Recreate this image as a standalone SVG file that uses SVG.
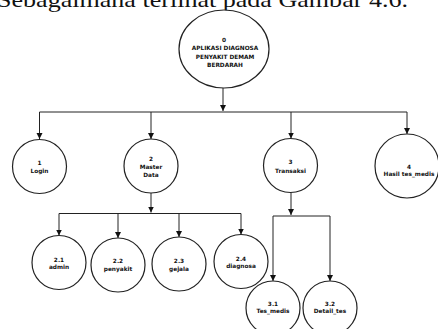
<svg xmlns="http://www.w3.org/2000/svg" width="438" height="329" viewBox="0 0 438 329">
<style>
.n{fill:#fff;stroke:#222;stroke-width:1.2}
.c{fill:none;stroke:#222;stroke-width:1}
.t{font-family:"DejaVu Sans",Verdana,sans-serif;font-weight:bold;font-size:5.8px;fill:#111;text-anchor:middle}
.h{font-family:"Liberation Serif","Times New Roman",serif;font-size:22px;fill:#111}
</style>
<defs>
<marker id="a" markerUnits="userSpaceOnUse" markerWidth="7" markerHeight="7" refX="6" refY="3" orient="auto">
<path d="M0,0 L6,3 L0,6 z" fill="#111"/>
</marker>
</defs>
<text class="h" x="-3" y="7" textLength="411" lengthAdjust="spacingAndGlyphs">Sebagaimana terlihat pada Gambar 4.6.</text>
<g id="connectors">
<path class="c" d="M223,88 V111" marker-end="url(#a)"/>
<path class="c" d="M39.5,112 H407"/>
<path class="c" d="M39.5,112 V139" marker-end="url(#a)"/>
<path class="c" d="M151,112 V139" marker-end="url(#a)"/>
<path class="c" d="M291,112 V138.5" marker-end="url(#a)"/>
<path class="c" d="M407,112 V134" marker-end="url(#a)"/>
<path class="c" d="M151,193 V212.5" marker-end="url(#a)"/>
<path class="c" d="M59,213.5 H241"/>
<path class="c" d="M59,213.5 V235.5" marker-end="url(#a)"/>
<path class="c" d="M118,213.5 V238" marker-end="url(#a)"/>
<path class="c" d="M179,213.5 V237" marker-end="url(#a)"/>
<path class="c" d="M241,213.5 V234.5" marker-end="url(#a)"/>
<path class="c" d="M291,192.5 V215" marker-end="url(#a)"/>
<path class="c" d="M273,216 H330"/>
<path class="c" d="M273,216 V281" marker-end="url(#a)"/>
<path class="c" d="M330,216 V281" marker-end="url(#a)"/>
</g>
<g id="n0">
<ellipse class="n" cx="224" cy="49" rx="45" ry="39"/>
<text class="t" x="224" y="42">0</text>
<text class="t" x="225" y="50">APLIKASI DIAGNOSA</text>
<text class="t" x="225" y="58.5">PENYAKIT DEMAM</text>
<text class="t" x="225" y="66.5">BERDARAH</text>
</g>
<g id="n1">
<circle class="n" cx="39.5" cy="166.5" r="27"/>
<text class="t" x="39.5" y="164.5">1</text>
<text class="t" x="39.5" y="173">Login</text>
</g>
<g id="n2">
<circle class="n" cx="151" cy="166" r="27"/>
<text class="t" x="151" y="160.5">2</text>
<text class="t" x="151" y="169">Master</text>
<text class="t" x="151" y="177">Data</text>
</g>
<g id="n3">
<circle class="n" cx="290.5" cy="165.5" r="27"/>
<text class="t" x="290.5" y="164">3</text>
<text class="t" x="290.5" y="173">Transaksi</text>
</g>
<g id="n4">
<circle class="n" cx="407" cy="166" r="32"/>
<text class="t" x="409" y="168.5">4</text>
<text class="t" x="409" y="176">Hasil tes_medis</text>
</g>
<g id="n21">
<circle class="n" cx="59" cy="262.5" r="27"/>
<text class="t" x="59" y="261.5">2.1</text>
<text class="t" x="59" y="269">admin</text>
</g>
<g id="n22">
<circle class="n" cx="118" cy="265" r="27"/>
<text class="t" x="118" y="263">2.2</text>
<text class="t" x="118" y="271">penyakit</text>
</g>
<g id="n23">
<circle class="n" cx="179" cy="264" r="27"/>
<text class="t" x="179" y="263">2.3</text>
<text class="t" x="179" y="271">gejala</text>
</g>
<g id="n24">
<circle class="n" cx="241" cy="261.5" r="27"/>
<text class="t" x="241" y="260.5">2.4</text>
<text class="t" x="241" y="268">diagnosa</text>
</g>
<g id="n31">
<circle class="n" cx="273" cy="308" r="27"/>
<text class="t" x="273" y="305.5">3.1</text>
<text class="t" x="273" y="313">Tes_medis</text>
</g>
<g id="n32">
<circle class="n" cx="330" cy="308" r="27"/>
<text class="t" x="330" y="305.5">3.2</text>
<text class="t" x="330" y="313">Detail_tes</text>
</g>
</svg>
